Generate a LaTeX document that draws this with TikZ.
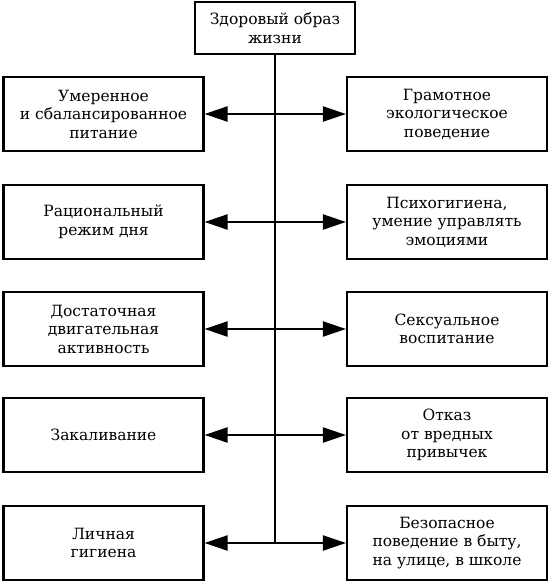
\documentclass[tikz,border=0pt]{standalone}
\usepackage{fontspec}
\setmainfont{DejaVu Serif}
\usetikzlibrary{arrows.meta}
\begin{document}
\begin{tikzpicture}[x=1pt,y=-1pt,
  box/.style={draw, line width=2.1pt, minimum width=200pt, minimum height=74pt, align=center, inner sep=0pt,
    font=\fontsize{15.5}{18.5}\selectfont},
  topbox/.style={box, minimum width=160pt, minimum height=52pt},
  conn/.style={line width=2.1pt},
  arr/.style={conn, -{Triangle[length=23pt,width=15pt]}}]
\useasboundingbox (0,0) rectangle (552,581);
\node[topbox] (top) at (275,28) {Здоровый образ\\жизни};
\node[box] (L1) at (103.5,114) {Умеренное\\и сбалансированное\\питание};
\node[box] (R1) at (447,114) {Грамотное\\экологическое\\поведение};
\node[box] (L2) at (103.5,222) {Рациональный\\режим дня};
\node[box] (R2) at (447,222) {Психогигиена,\\умение управлять\\эмоциями};
\node[box] (L3) at (103.5,329) {Достаточная\\двигательная\\активность};
\node[box] (R3) at (447,329) {Сексуальное\\воспитание};
\node[box] (L4) at (103.5,435) {Закаливание};
\node[box] (R4) at (447,435) {Отказ\\от вредных\\привычек};
\node[box] (L5) at (103.5,543) {Личная\\гигиена};
\node[box] (R5) at (447,543) {Безопасное\\поведение в быту,\\на улице, в школе};
\foreach \i/\y in {1/114,2/222,3/329,4/435,5/543}{
  \coordinate (j\i) at (275,\y);
  \draw[arr] (j\i) -- (L\i);
  \draw[arr] (j\i) -- (R\i);
}
\draw[conn] (top.south) -- (j5);
\end{tikzpicture}
\end{document}
